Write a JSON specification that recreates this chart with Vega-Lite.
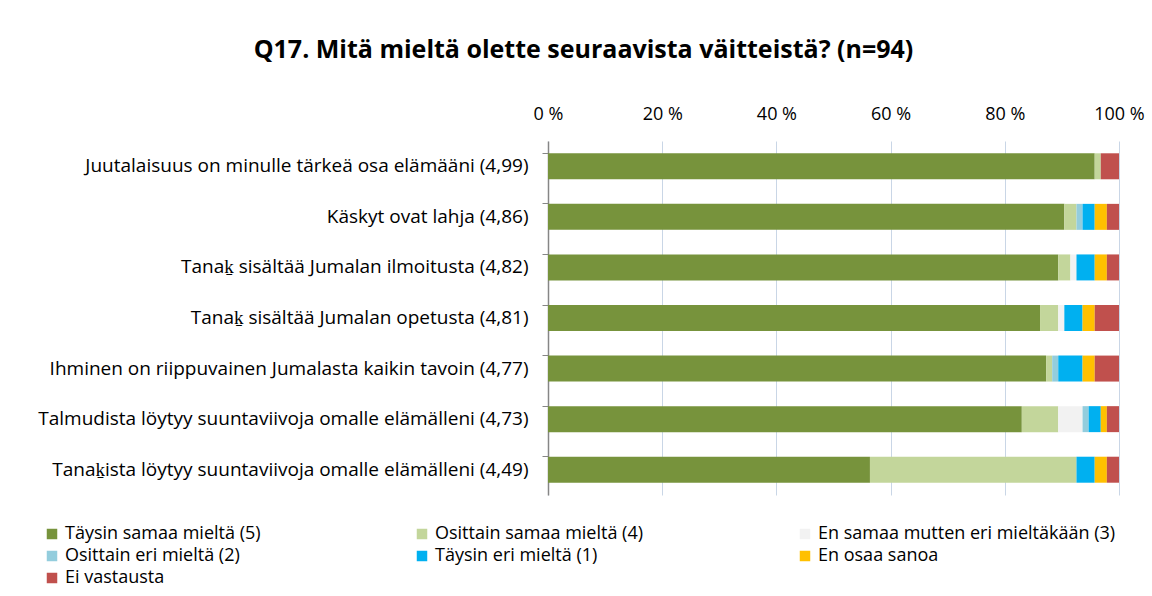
{
  "$schema": "https://vega.github.io/schema/vega-lite/v6.json",
  "autosize": "none",
  "width": 571,
  "height": 354,
  "padding": {"left": 548, "top": 141, "right": 33, "bottom": 101},
  "background": "white",
  "title": {
    "text": "Q17. Mitä mieltä olette seuraavista väitteistä? (n=94)",
    "font": "Open Sans",
    "fontSize": 25,
    "fontWeight": "bold",
    "color": "#000000",
    "anchor": "middle",
    "frame": "group",
    "dx": -250,
    "offset": 42
  },
  "data": {
    "values": [
      {"statement": "Juutalaisuus on minulle tärkeä osa elämääni (4,99)", "answer": "Täysin samaa mieltä (5)", "count": 90},
      {"statement": "Juutalaisuus on minulle tärkeä osa elämääni (4,99)", "answer": "Osittain samaa mieltä (4)", "count": 1},
      {"statement": "Juutalaisuus on minulle tärkeä osa elämääni (4,99)", "answer": "Ei vastausta", "count": 3},

      {"statement": "Käskyt ovat lahja (4,86)", "answer": "Täysin samaa mieltä (5)", "count": 85},
      {"statement": "Käskyt ovat lahja (4,86)", "answer": "Osittain samaa mieltä (4)", "count": 2},
      {"statement": "Käskyt ovat lahja (4,86)", "answer": "Osittain eri mieltä (2)", "count": 1},
      {"statement": "Käskyt ovat lahja (4,86)", "answer": "Täysin eri mieltä (1)", "count": 2},
      {"statement": "Käskyt ovat lahja (4,86)", "answer": "En osaa sanoa", "count": 2},
      {"statement": "Käskyt ovat lahja (4,86)", "answer": "Ei vastausta", "count": 2},

      {"statement": "Tanaḵ sisältää Jumalan ilmoitusta (4,82)", "answer": "Täysin samaa mieltä (5)", "count": 84},
      {"statement": "Tanaḵ sisältää Jumalan ilmoitusta (4,82)", "answer": "Osittain samaa mieltä (4)", "count": 2},
      {"statement": "Tanaḵ sisältää Jumalan ilmoitusta (4,82)", "answer": "En samaa mutten eri mieltäkään (3)", "count": 1},
      {"statement": "Tanaḵ sisältää Jumalan ilmoitusta (4,82)", "answer": "Täysin eri mieltä (1)", "count": 3},
      {"statement": "Tanaḵ sisältää Jumalan ilmoitusta (4,82)", "answer": "En osaa sanoa", "count": 2},
      {"statement": "Tanaḵ sisältää Jumalan ilmoitusta (4,82)", "answer": "Ei vastausta", "count": 2},

      {"statement": "Tanaḵ sisältää Jumalan opetusta (4,81)", "answer": "Täysin samaa mieltä (5)", "count": 81},
      {"statement": "Tanaḵ sisältää Jumalan opetusta (4,81)", "answer": "Osittain samaa mieltä (4)", "count": 3},
      {"statement": "Tanaḵ sisältää Jumalan opetusta (4,81)", "answer": "En samaa mutten eri mieltäkään (3)", "count": 1},
      {"statement": "Tanaḵ sisältää Jumalan opetusta (4,81)", "answer": "Täysin eri mieltä (1)", "count": 3},
      {"statement": "Tanaḵ sisältää Jumalan opetusta (4,81)", "answer": "En osaa sanoa", "count": 2},
      {"statement": "Tanaḵ sisältää Jumalan opetusta (4,81)", "answer": "Ei vastausta", "count": 4},

      {"statement": "Ihminen on riippuvainen Jumalasta kaikin tavoin (4,77)", "answer": "Täysin samaa mieltä (5)", "count": 82},
      {"statement": "Ihminen on riippuvainen Jumalasta kaikin tavoin (4,77)", "answer": "Osittain samaa mieltä (4)", "count": 1},
      {"statement": "Ihminen on riippuvainen Jumalasta kaikin tavoin (4,77)", "answer": "Osittain eri mieltä (2)", "count": 1},
      {"statement": "Ihminen on riippuvainen Jumalasta kaikin tavoin (4,77)", "answer": "Täysin eri mieltä (1)", "count": 4},
      {"statement": "Ihminen on riippuvainen Jumalasta kaikin tavoin (4,77)", "answer": "En osaa sanoa", "count": 2},
      {"statement": "Ihminen on riippuvainen Jumalasta kaikin tavoin (4,77)", "answer": "Ei vastausta", "count": 4},

      {"statement": "Talmudista löytyy suuntaviivoja omalle elämälleni (4,73)", "answer": "Täysin samaa mieltä (5)", "count": 78},
      {"statement": "Talmudista löytyy suuntaviivoja omalle elämälleni (4,73)", "answer": "Osittain samaa mieltä (4)", "count": 6},
      {"statement": "Talmudista löytyy suuntaviivoja omalle elämälleni (4,73)", "answer": "En samaa mutten eri mieltäkään (3)", "count": 4},
      {"statement": "Talmudista löytyy suuntaviivoja omalle elämälleni (4,73)", "answer": "Osittain eri mieltä (2)", "count": 1},
      {"statement": "Talmudista löytyy suuntaviivoja omalle elämälleni (4,73)", "answer": "Täysin eri mieltä (1)", "count": 2},
      {"statement": "Talmudista löytyy suuntaviivoja omalle elämälleni (4,73)", "answer": "En osaa sanoa", "count": 1},
      {"statement": "Talmudista löytyy suuntaviivoja omalle elämälleni (4,73)", "answer": "Ei vastausta", "count": 2},

      {"statement": "Tanaḵista löytyy suuntaviivoja omalle elämälleni (4,49)", "answer": "Täysin samaa mieltä (5)", "count": 53},
      {"statement": "Tanaḵista löytyy suuntaviivoja omalle elämälleni (4,49)", "answer": "Osittain samaa mieltä (4)", "count": 34},
      {"statement": "Tanaḵista löytyy suuntaviivoja omalle elämälleni (4,49)", "answer": "Täysin eri mieltä (1)", "count": 3},
      {"statement": "Tanaḵista löytyy suuntaviivoja omalle elämälleni (4,49)", "answer": "En osaa sanoa", "count": 2},
      {"statement": "Tanaḵista löytyy suuntaviivoja omalle elämälleni (4,49)", "answer": "Ei vastausta", "count": 2}
    ]
  },
  "transform": [
    {"calculate": "indexof(['Täysin samaa mieltä (5)', 'Osittain samaa mieltä (4)', 'En samaa mutten eri mieltäkään (3)', 'Osittain eri mieltä (2)', 'Täysin eri mieltä (1)', 'En osaa sanoa', 'Ei vastausta'], datum.answer)", "as": "answer_order"}
  ],
  "mark": {"type": "bar"},
  "encoding": {
    "y": {
      "field": "statement",
      "type": "nominal",
      "sort": null,
      "title": null,
      "scale": {"paddingInner": 0.486, "paddingOuter": 0.243},
      "axis": {
        "orient": "left",
        "labelFont": "Open Sans",
        "labelFontSize": 19,
        "labelColor": "#000000",
        "labelLimit": 600,
        "labelPadding": 14,
        "tickSize": 6,
        "tickColor": "#868686",
        "bandPosition": 0,
        "domainColor": "#868686",
        "domainWidth": 1.5,
        "grid": false
      }
    },
    "x": {
      "field": "count",
      "type": "quantitative",
      "stack": "normalize",
      "title": null,
      "scale": {"domain": [0, 1]},
      "axis": {
        "orient": "top",
        "values": [0, 0.2, 0.4, 0.6, 0.8, 1],
        "labelExpr": "format(datum.value * 100, 'd') + ' %'",
        "labelFont": "Open Sans",
        "labelFontSize": 18,
        "labelColor": "#000000",
        "labelFlush": false,
        "labelPadding": 18,
        "ticks": false,
        "domain": false,
        "grid": true,
        "gridColor": "#C9D6E6",
        "gridWidth": 1
      }
    },
    "order": {"field": "answer_order", "type": "quantitative", "sort": "ascending"},
    "color": {
      "field": "answer",
      "type": "nominal",
      "scale": {
        "domain": ["Täysin samaa mieltä (5)", "Osittain samaa mieltä (4)", "En samaa mutten eri mieltäkään (3)", "Osittain eri mieltä (2)", "Täysin eri mieltä (1)", "En osaa sanoa", "Ei vastausta"],
        "range": ["#77933C", "#C3D69B", "#F2F2F2", "#93CDDD", "#00B0F0", "#FFC000", "#C0504D"]
      },
      "legend": {
        "orient": "none",
        "legendX": -505,
        "legendY": 384,
        "direction": "horizontal",
        "columns": 3,
        "title": null,
        "symbolType": "square",
        "symbolSize": 110,
        "symbolStrokeWidth": 0,
        "labelFont": "Open Sans",
        "labelFontSize": 18,
        "labelColor": "#000000",
        "labelLimit": 400,
        "columnPadding": 152,
        "rowPadding": 4,
        "labelOffset": 4
      }
    }
  },
  "config": {
    "view": {"stroke": null},
    "bar": {"stroke": null}
  }
}
